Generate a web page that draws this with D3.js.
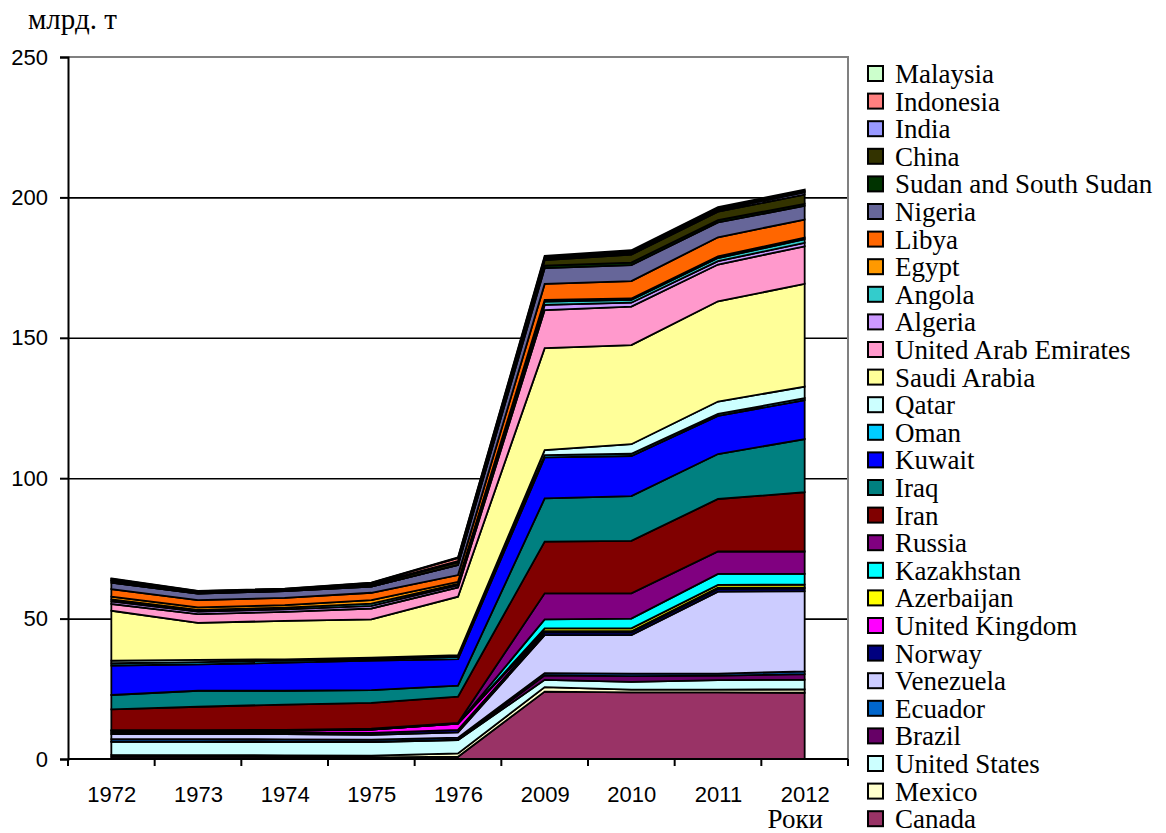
<!DOCTYPE html>
<html>
<head>
<meta charset="utf-8">
<script src="https://cdn.jsdelivr.net/npm/d3@7"></script>
<style>
  html, body { margin: 0; padding: 0; background: #fff; }
  svg { display: block; }
</style>
</head>
<body>
<svg id="chart" width="1166" height="833"></svg>
<script>
// ---------- data ----------
const years = ["1972", "1973", "1974", "1975", "1976", "2009", "2010", "2011", "2012"];

// stack order: bottom -> top
const countries = [
  "Canada", "Mexico", "United States", "Brazil", "Ecuador", "Venezuela", "Norway",
  "United Kingdom", "Azerbaijan", "Kazakhstan", "Russia", "Iran", "Iraq", "Kuwait",
  "Oman", "Qatar", "Saudi Arabia", "United Arab Emirates", "Algeria", "Angola",
  "Egypt", "Libya", "Nigeria", "Sudan and South Sudan", "China", "India",
  "Indonesia", "Malaysia"
];

const colors = [
  "#993366", "#FFFFCC", "#CCFFFF", "#660066", "#0066CC", "#CCCCFF", "#000080",
  "#FF00FF", "#FFFF00", "#00FFFF", "#800080", "#800000", "#008080", "#0000FF",
  "#00CCFF", "#CCFFFF", "#FFFF99", "#FF99CC", "#CC99FF", "#33CCCC",
  "#FF9900", "#FF6600", "#666699", "#003300", "#333300", "#9999FF",
  "#FF8080", "#CCFFCC"
];

// values, billion tonnes, per year (same order as `years`)
const Canada      = [0.8, 0.8, 0.7, 0.6, 0.8, 24.0, 23.7, 23.7, 23.6];
const Mexico      = [0.7, 0.6, 0.6, 0.6, 1.2, 1.6, 1.0, 1.0, 1.2];
const UnitedStates= [4.6, 4.7, 4.7, 4.8, 4.7, 2.6, 2.8, 3.4, 3.5];
const Brazil      = [0.2, 0.2, 0.2, 0.2, 0.2, 1.6, 2.0, 1.6, 1.9];
const Ecuador     = [0.8, 0.8, 0.8, 0.7, 0.7, 0.8, 0.9, 0.7, 1.0];
const Venezuela   = [1.8, 1.8, 1.9, 1.7, 1.9, 13.5, 13.7, 29.2, 28.6];
const Norway      = [0.6, 0.6, 0.6, 0.7, 0.9, 1.0, 1.0, 1.0, 0.9];
const UnitedKingdom=[0.5, 0.5, 0.6, 1.2, 2.2, 0.4, 0.4, 0.4, 0.4];
const Azerbaijan  = [0.0, 0.0, 0.0, 0.0, 0.0, 1.0, 1.0, 1.0, 1.0];
const Kazakhstan  = [0.0, 0.0, 0.0, 0.0, 0.0, 3.2, 3.5, 3.9, 3.8];
const Russia      = [0.3, 0.3, 0.3, 0.3, 0.3, 9.3, 9.0, 8.0, 8.0];
const Iran        = [7.4, 8.3, 9.0, 9.2, 9.3, 18.4, 18.7, 18.7, 21.1];
const Iraq        = [5.1, 5.7, 4.9, 4.5, 3.9, 15.4, 15.9, 16.0, 18.9];
const Kuwait      = [10.5, 9.4, 10.0, 10.5, 9.5, 14.6, 14.3, 13.6, 13.9];
const Oman        = [0.8, 0.8, 0.7, 0.6, 0.8, 0.8, 0.8, 0.7, 0.7];
const Qatar       = [0.9, 0.8, 0.5, 0.5, 0.6, 1.8, 3.4, 4.4, 4.1];
const SaudiArabia = [17.8, 13.2, 13.7, 13.6, 20.8, 36.3, 35.3, 35.7, 36.6];
const UAE         = [2.4, 3.1, 3.2, 3.9, 3.3, 13.6, 13.7, 13.1, 13.4];
const Algeria     = [0.9, 0.9, 0.9, 0.9, 0.8, 1.8, 1.4, 1.2, 1.2];
const Angola      = [0.7, 0.6, 0.6, 0.8, 0.5, 1.2, 1.0, 1.1, 1.3];
const Egypt       = [1.0, 0.9, 0.9, 1.3, 0.7, 0.6, 0.5, 0.6, 0.6];
const Libya       = [2.7, 2.6, 2.6, 2.6, 2.4, 5.7, 6.2, 6.8, 6.4];
const Nigeria     = [2.3, 2.3, 2.4, 2.2, 3.6, 5.6, 5.7, 5.3, 4.9];
const Sudan       = [0.0, 0.0, 0.0, 0.0, 0.0, 0.9, 0.9, 0.8, 0.7];
const China       = [0.6, 0.5, 0.5, 0.6, 1.0, 2.0, 2.8, 3.0, 3.3];
const India       = [0.2, 0.2, 0.2, 0.3, 0.4, 0.5, 0.6, 0.6, 0.8];
const Indonesia   = [0.5, 0.2, 0.1, 0.4, 1.1, 0.5, 0.5, 0.5, 0.5];
const Malaysia    = [0.2, 0.1, 0.1, 0.1, 0.2, 0.5, 0.5, 0.5, 0.5];

const series = [
  Canada, Mexico, UnitedStates, Brazil, Ecuador, Venezuela, Norway,
  UnitedKingdom, Azerbaijan, Kazakhstan, Russia, Iran, Iraq, Kuwait,
  Oman, Qatar, SaudiArabia, UAE, Algeria, Angola, Egypt, Libya, Nigeria,
  Sudan, China, India, Indonesia, Malaysia
];

const yTicks = [0, 50, 100, 150, 200, 250];
const yTitle = "млрд. т";
const xTitle = "Роки";

// ---------- build table ----------
const table = years.map((yr, i) => {
  const row = { year: yr };
  countries.forEach((c, k) => { row[c] = series[k][i]; });
  return row;
});

// ---------- layout ----------
const svg = d3.select("#chart");
const pLeft = 68, pRight = 848, pTop = 57, pBottom = 759;

const x = d3.scalePoint().domain(years).range([pLeft, pRight]).padding(0.5);
const step = x.step();
const y = d3.scaleLinear().domain([0, 250]).range([pBottom, pTop]);

const serif = "'Liberation Serif', 'Times New Roman', serif";
const sans = "'Liberation Sans', Arial, sans-serif";

// gridlines
svg.append("g")
  .attr("transform", `translate(${pLeft},0)`)
  .call(d3.axisLeft(y).tickValues([50, 100, 150, 200]).tickSize(-(pRight - pLeft)).tickFormat(""))
  .call(g => g.select(".domain").remove())
  .call(g => g.selectAll("line").attr("stroke", "#000").attr("stroke-width", 1.6));

// plot border top/right (gray)
svg.append("path")
  .attr("d", `M${pLeft},${y(250)}H${pRight}V${pBottom}`)
  .attr("fill", "none").attr("stroke", "#808080").attr("stroke-width", 2);

// stacked areas
const stack = d3.stack().keys(countries);
const layers = stack(table);
const area = d3.area()
  .x(d => x(d.data.year))
  .y0(d => y(d[0]))
  .y1(d => y(d[1]));

svg.append("g")
  .selectAll("path")
  .data(layers)
  .join("path")
  .attr("d", area)
  .attr("fill", (d, i) => colors[i])
  .attr("stroke", "#000")
  .attr("stroke-width", 1.8)
  .attr("stroke-linejoin", "miter");

// y axis
svg.append("g")
  .attr("transform", `translate(${pLeft},0)`)
  .call(d3.axisLeft(y).tickValues(yTicks).tickSize(8).tickPadding(12))
  .call(g => g.select(".domain").attr("stroke", "#000").attr("stroke-width", 2))
  .call(g => g.selectAll("line").attr("stroke", "#000").attr("stroke-width", 2))
  .call(g => g.selectAll("text").attr("font-family", sans).attr("font-size", 22).attr("fill", "#000"));

// x axis: labels at categories, tick marks between categories
svg.append("g")
  .attr("transform", `translate(0,${pBottom})`)
  .call(d3.axisBottom(x).tickSize(0).tickPadding(27))
  .call(g => g.select(".domain").remove())
  .call(g => g.selectAll("text").attr("font-family", sans).attr("font-size", 22).attr("fill", "#000"));

const boundaries = years.map(yr => x(yr) - step / 2).concat([x(years[years.length - 1]) + step / 2]);
svg.append("line")
  .attr("x1", pLeft).attr("x2", pRight).attr("y1", pBottom).attr("y2", pBottom)
  .attr("stroke", "#000").attr("stroke-width", 2);
svg.append("g").selectAll("line").data(boundaries).join("line")
  .attr("x1", d => d).attr("x2", d => d)
  .attr("y1", pBottom).attr("y2", pBottom + 7)
  .attr("stroke", "#000").attr("stroke-width", 2);

// titles
svg.append("text").attr("x", 28).attr("y", 29)
  .attr("font-family", serif).attr("font-size", 29).attr("fill", "#000").text(yTitle);
svg.append("text").attr("x", 823).attr("y", 828).attr("text-anchor", "end")
  .attr("font-family", serif).attr("font-size", 27).attr("fill", "#000").text(xTitle);

// legend (top -> bottom is reverse of stack)
const legendItems = countries.map((c, i) => ({ name: c, color: colors[i] })).reverse();
const lg = svg.append("g");
const rows = lg.selectAll("g").data(legendItems).join("g")
  .attr("transform", (d, i) => `translate(868,${73.5 + i * 27.6})`);
rows.append("rect")
  .attr("x", 0).attr("y", -7.5).attr("width", 15).attr("height", 15)
  .attr("fill", d => d.color).attr("stroke", "#000").attr("stroke-width", 2);
rows.append("text")
  .attr("x", 27).attr("y", 9.5)
  .attr("font-family", serif).attr("font-size", 27).attr("fill", "#000")
  .text(d => d.name);
</script>
</body>
</html>
